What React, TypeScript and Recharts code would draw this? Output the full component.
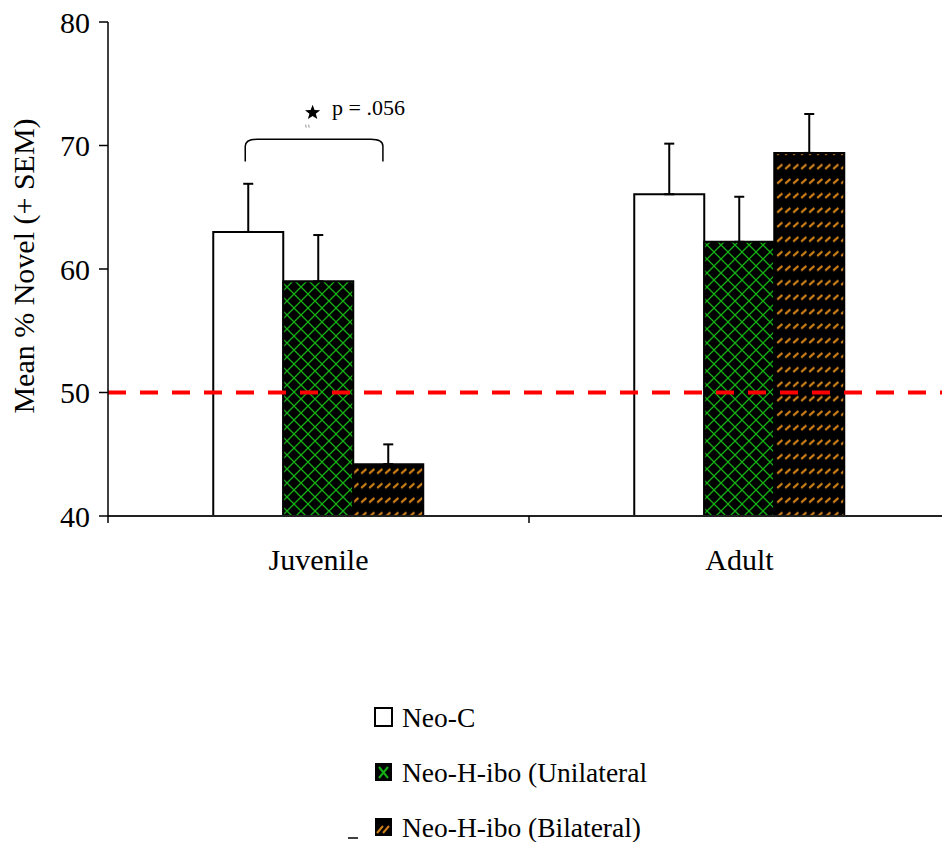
import React from 'react';
import {
  BarChart,
  Bar,
  XAxis,
  YAxis,
  ErrorBar,
  ReferenceLine,
  ReferenceArea,
  Legend,
  Label,
} from 'recharts';

// Group means and SEMs (percent time on novel object)
const categories = ['Juvenile', 'Adult'];
const neoC = [63.0, 66.05];
const neoCSem = [3.9, 4.1];
const uniH = [59.0, 62.2];
const uniHSem = [3.75, 3.65];
const biH = [44.2, 69.4];
const biHSem = [1.6, 3.15];

const seriesKeys = ['neoC', 'uniH', 'biH'];
const seriesNames = ['Neo-C', 'Neo-H-ibo (Unilateral', 'Neo-H-ibo (Bilateral)'];
const yTicks = [40, 50, 60, 70, 80];
const chanceLevel = 50;

// Significance bracket between Neo-C and bilateral juveniles
const sigGroup = 'Juvenile';
const sigBracketLow = 68.7;
const sigBracketHigh = 70.5;
const sigTextLevel = 72.5;
const sigAreaTop = 74;
const sigText = 'p = .056';

const FONT = '"Liberation Serif", "Times New Roman", serif';
const GREEN = '#14b014';
const ORANGE = '#d08018';

const data = categories.map((group, i) => ({
  group,
  neoC: neoC[i],
  neoCErr: [0, neoCSem[i]],
  uniH: uniH[i],
  uniHErr: [0, uniHSem[i]],
  biH: biH[i],
  biHErr: [0, biHSem[i]],
}));

const XTick = (props: any) => {
  const { x, y, payload, index, visibleTicksCount } = props;
  const off = payload && payload.offset ? payload.offset : 0;
  const axisY = y - 33;
  return (
    <g>
      <line x1={x - off} x2={x - off} y1={axisY} y2={axisY + 7} stroke="#000" strokeWidth={1.5} />
      {index === visibleTicksCount - 1 && (
        <line x1={x + off} x2={x + off} y1={axisY} y2={axisY + 7} stroke="#000" strokeWidth={1.5} />
      )}
      <text x={x} y={y} dy="0.71em" textAnchor="middle" fontSize={30} fontFamily={FONT} fill="#000">
        {payload.value}
      </text>
    </g>
  );
};

const YTitle = (props: any) => {
  const vb = props.viewBox || { x: 0, y: 0, width: 0, height: 0 };
  const cx = vb.x + 34;
  const cy = vb.y + vb.height / 2 - 3;
  return (
    <text
      x={cx}
      y={cy}
      transform={`rotate(-90 ${cx} ${cy})`}
      textAnchor="middle"
      fontSize={30}
      fontFamily={FONT}
      fill="#000"
    >
      Mean % Novel (+ SEM)
    </text>
  );
};

// Five-pointed star outline centred on (cx, cy)
const starPoints = (cx: number, cy: number, r: number) => {
  const pts: string[] = [];
  for (let k = 0; k < 10; k++) {
    const rad = k % 2 === 0 ? r : r * 0.42;
    const a = -Math.PI / 2 + (k * Math.PI) / 5;
    pts.push(`${cx + rad * Math.cos(a)},${cy + rad * Math.sin(a)}`);
  }
  return pts.join(' ');
};

// Bracket + star + p-value, laid out inside the juvenile band
const SigShape = (props: any) => {
  const { x, y, width, height } = props;
  const pxPerUnit = height / (sigAreaTop - sigBracketLow);
  const toPx = (v: number) => y + (sigAreaTop - v) * pxPerUnit;
  const left = x + width * 0.326;
  const right = x + width * 0.653;
  const top = toPx(sigBracketHigh);
  const bottom = toPx(sigBracketLow);
  const rx = 12;
  const ry = 7;
  const textY = toPx(sigTextLevel);
  const starX = x + width * 0.486;
  return (
    <g>
      <path
        d={`M${left},${bottom} L${left},${top + ry} Q${left},${top} ${left + rx},${top} L${right - rx},${top} Q${right},${top} ${right},${top + ry} L${right},${bottom}`}
        fill="none"
        stroke="#000"
        strokeWidth={1.5}
      />
      <polygon points={starPoints(starX, textY - 2, 8)} fill="#000" />
      <path
        d={`M${starX - 7},${textY + 10} l0.6,3 M${starX - 4},${textY + 10} l0.6,3`}
        stroke="#777"
        strokeWidth={0.8}
      />
      <text x={x + width * 0.532} y={textY} fontSize={22} fontFamily={FONT} fill="#000">
        {sigText}
      </text>
    </g>
  );
};

const Swatch = ({ kind, x, y }: { kind: string; x: number; y: number }) => {
  const w = 17;
  const h = 18;
  if (kind === 'neoC') {
    return <rect x={x} y={y} width={w} height={h} fill="#fff" stroke="#000" strokeWidth={2} />;
  }
  if (kind === 'uniH') {
    return (
      <g>
        <rect x={x} y={y} width={w} height={h} fill="#000" />
        <path
          d={`M${x + 4},${y + 4} L${x + w - 4},${y + h - 3} M${x + w - 4},${y + 4} L${x + 4},${y + h - 3}`}
          stroke={GREEN}
          strokeWidth={2}
        />
      </g>
    );
  }
  return (
    <g>
      <rect x={x} y={y} width={w} height={h} fill="#000" />
      <path
        d={`M${x + 2},${y + h - 3} L${x + 8},${y + 8} M${x + 8},${y + h - 3} L${x + 14},${y + 8}`}
        stroke={ORANGE}
        strokeWidth={2}
      />
    </g>
  );
};

const renderLegend = (props: any) => {
  const payload = [...(props.payload || [])].sort(
    (a: any, b: any) => seriesKeys.indexOf(a.dataKey) - seriesKeys.indexOf(b.dataKey)
  );
  return (
    <svg width={420} height={147} style={{ overflow: 'visible', display: 'block' }}>
      {payload.map((entry: any, i: number) => {
        const base = 32 + i * 55;
        return (
          <g key={entry.dataKey || i}>
            <Swatch kind={entry.dataKey} x={35} y={base - 19} />
            <text x={62} y={base} fontSize={27.5} fontFamily={FONT} fill="#000">
              {entry.value}
            </text>
          </g>
        );
      })}
      <line x1={8} x2={18} y1={143} y2={143} stroke="#000" strokeWidth={1.5} />
    </svg>
  );
};

export default function App() {
  return (
    <div
      style={{
        position: 'absolute',
        left: 0,
        top: 0,
        width: 942,
        height: 842,
        overflow: 'hidden',
        background: '#fff',
        fontFamily: FONT,
      }}
    >
      <BarChart
        width={950}
        height={842}
        data={data}
        margin={{ top: 22, right: 0, left: 0, bottom: 266 }}
        barCategoryGap="25%"
        barGap={0}
      >
        <defs>
          <pattern id="crossHatch" width={14} height={14} patternUnits="userSpaceOnUse">
            <rect width={14} height={14} fill="#000" />
            <path d="M-3,-3 L17,17 M17,-3 L-3,17" stroke={GREEN} strokeWidth={1.3} />
          </pattern>
          <pattern id="dashHatch" width={8} height={14.5} patternUnits="userSpaceOnUse">
            <rect width={8} height={14.5} fill="#000" />
            <path d="M1.2,9.5 L6.4,5" stroke={ORANGE} strokeWidth={2.2} />
          </pattern>
        </defs>
        <XAxis
          dataKey="group"
          height={60}
          axisLine={{ stroke: '#222', strokeWidth: 2 }}
          tickLine={false}
          tickSize={8}
          tickMargin={25}
          tick={<XTick />}
          interval={0}
        />
        <YAxis
          width={108}
          domain={[40, 80]}
          ticks={yTicks}
          allowDataOverflow
          axisLine={{ stroke: '#000', strokeWidth: 1.5 }}
          tickLine={{ stroke: '#000', strokeWidth: 1.5 }}
          tickSize={9}
          tickMargin={9}
          tick={{ fontSize: 30, fill: '#000', fontFamily: FONT }}
        >
          <Label content={<YTitle />} />
        </YAxis>
        <Bar dataKey="neoC" name={seriesNames[0]} fill="#fff" stroke="#000" strokeWidth={2} isAnimationActive={false}>
          <ErrorBar dataKey="neoCErr" width={5} stroke="#000" strokeWidth={2} isAnimationActive={false} />
        </Bar>
        <Bar dataKey="uniH" name={seriesNames[1]} fill="url(#crossHatch)" stroke="#000" strokeWidth={2} isAnimationActive={false}>
          <ErrorBar dataKey="uniHErr" width={5} stroke="#000" strokeWidth={2} isAnimationActive={false} />
        </Bar>
        <Bar dataKey="biH" name={seriesNames[2]} fill="url(#dashHatch)" stroke="#000" strokeWidth={2} isAnimationActive={false}>
          <ErrorBar dataKey="biHErr" width={5} stroke="#000" strokeWidth={2} isAnimationActive={false} />
        </Bar>
        <ReferenceLine y={chanceLevel} stroke="#ff0000" strokeWidth={4} strokeDasharray="18 14" />
        <ReferenceArea
          x1={sigGroup}
          x2={sigGroup}
          y1={sigBracketLow}
          y2={sigAreaTop}
          fill="none"
          stroke="none"
          shape={<SigShape />}
        />
        <Legend
          layout="vertical"
          align="center"
          verticalAlign="middle"
          width={420}
          wrapperStyle={{ left: 340, top: 695, width: 420, height: 147 }}
          content={renderLegend}
        />
      </BarChart>
    </div>
  );
}
